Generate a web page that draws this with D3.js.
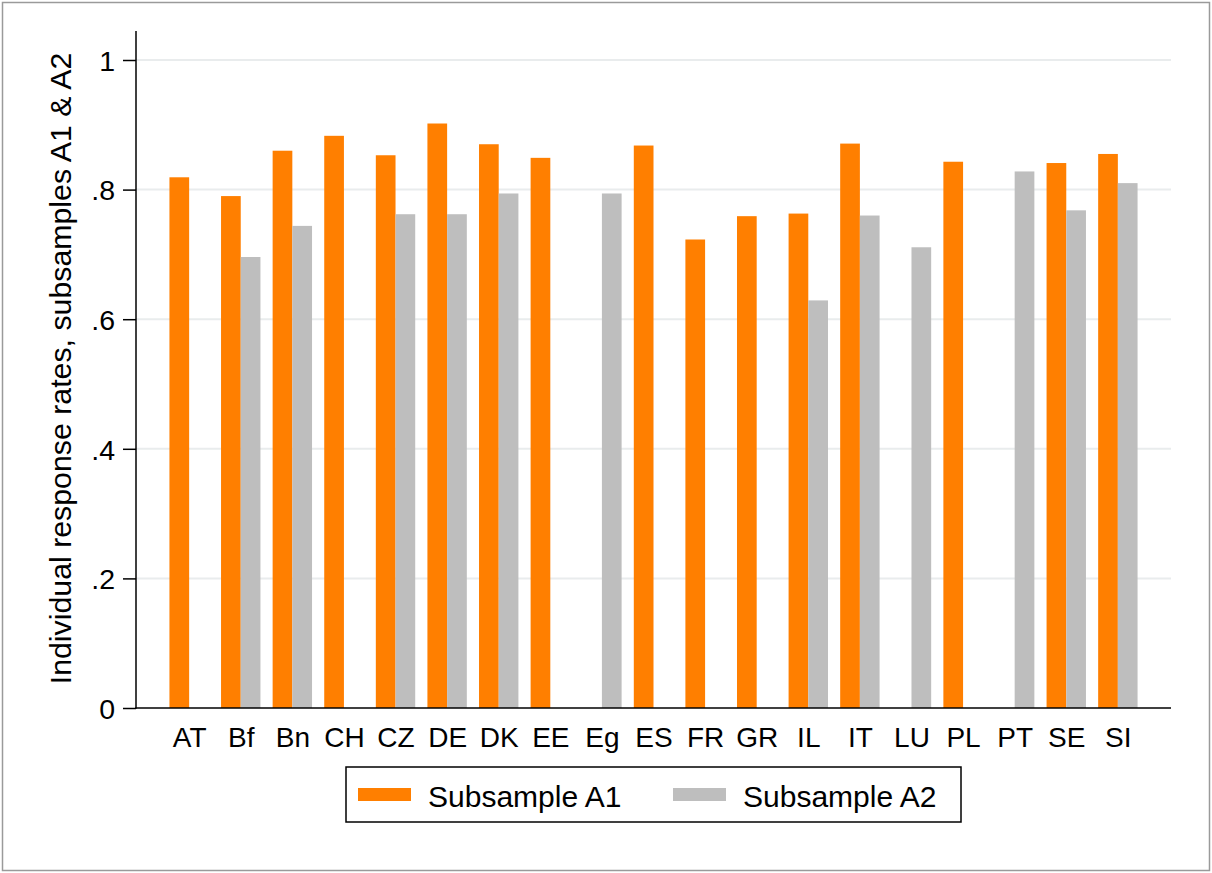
<!DOCTYPE html>
<html>
<head>
<meta charset="utf-8">
<script src="https://cdn.jsdelivr.net/npm/d3@7"></script>
<style>
  html, body { margin: 0; padding: 0; background: #fff; }
  svg { display: block; }
  text { font-family: "Liberation Sans", Arial, sans-serif; fill: #000; }
</style>
</head>
<body>
<div id="chart"></div>
<script>
// ---- data ----
const categories = ["AT","Bf","Bn","CH","CZ","DE","DK","EE","Eg","ES","FR","GR","IL","IT","LU","PL","PT","SE","SI"];
const subsampleA1 = [0.819,0.790,0.860,0.883,0.853,0.902,0.870,0.849,null,0.868,0.723,0.759,0.763,0.871,null,0.843,null,0.841,0.855];
const subsampleA2 = [null,0.696,0.744,null,0.762,0.762,0.794,null,0.794,null,null,null,0.629,0.760,0.711,null,0.828,0.768,0.810];
const seriesNames = ["Subsample A1","Subsample A2"];
const yTicks = [0, 0.2, 0.4, 0.6, 0.8, 1];
const yTickLabels = ["0", ".2", ".4", ".6", ".8", "1"];
const yTitle = "Individual response rates, subsamples A1 & A2";

(function () {
const W = 1212, H = 873;
const colors = ["#FF7F00", "#BEBEBE"];

const svg = d3.select("#chart").append("svg").attr("width", W).attr("height", H);

// outer frame
svg.append("rect").attr("x", 2.5).attr("y", 2.5).attr("width", 1207).attr("height", 868)
  .attr("fill", "#fff").attr("stroke", "#9a9a9a").attr("stroke-width", 1.5);

const pL = 136, pR = 1171, pT = 31, pB = 708;
const y = d3.scaleLinear().domain([0, 1]).range([pB, 60]);
const x = d3.scalePoint().domain(categories).range([pL, pR]).padding(1.03);
const barW = 19.7;

// gridlines
svg.append("g").selectAll("line").data(yTicks.filter(d => d > 0)).join("line")
  .attr("x1", pL).attr("x2", pR)
  .attr("y1", d => y(d)).attr("y2", d => y(d))
  .attr("stroke", "#e9eced").attr("stroke-width", 2);

// bars
const rows = categories.map((c, i) => ({c, a1: subsampleA1[i], a2: subsampleA2[i]}));
const g = svg.append("g");
g.selectAll("rect.a1").data(rows.filter(d => d.a1 != null)).join("rect")
  .attr("class", "a1")
  .attr("x", d => x(d.c) - barW).attr("width", barW)
  .attr("y", d => y(d.a1)).attr("height", d => y(0) - y(d.a1))
  .attr("fill", colors[0]);
g.selectAll("rect.a2").data(rows.filter(d => d.a2 != null)).join("rect")
  .attr("class", "a2")
  .attr("x", d => x(d.c)).attr("width", barW)
  .attr("y", d => y(d.a2)).attr("height", d => y(0) - y(d.a2))
  .attr("fill", colors[1]);

// y axis
const yAxis = d3.axisLeft(y).tickValues(yTicks).tickSize(13).tickPadding(8)
  .tickFormat((d, i) => yTickLabels[i]);
const ya = svg.append("g").attr("transform", `translate(${pL},0)`).call(yAxis);
ya.select(".domain").remove();
ya.selectAll(".tick line").attr("stroke", "#000").attr("stroke-width", 1.5);
ya.selectAll(".tick text").attr("font-size", 28.5).attr("font-family", "Liberation Sans, Arial, sans-serif")
  .attr("fill", "#000").attr("dy", "0.36em");
svg.append("line").attr("x1", pL).attr("x2", pL).attr("y1", pT).attr("y2", pB + 0.75)
  .attr("stroke", "#000").attr("stroke-width", 1.5);

// x axis
const xAxis = d3.axisBottom(x).tickSize(0).tickPadding(0);
const xa = svg.append("g").attr("transform", `translate(0,${pB})`).call(xAxis);
xa.select(".domain").remove();
xa.selectAll(".tick text").attr("font-size", 28).attr("font-family", "Liberation Sans, Arial, sans-serif")
  .attr("fill", "#000").attr("dy", null).attr("y", 38.5);
svg.append("line").attr("x1", pL - 0.75).attr("x2", pR).attr("y1", pB).attr("y2", pB)
  .attr("stroke", "#000").attr("stroke-width", 1.5);

// y title
svg.append("text")
  .attr("transform", `translate(71,${(pB + pT) / 2 - 1}) rotate(-90)`)
  .attr("text-anchor", "middle").attr("font-size", 30.3)
  .text(yTitle);

// legend
const lg = svg.append("g");
lg.append("rect").attr("x", 346).attr("y", 767).attr("width", 615).attr("height", 55)
  .attr("fill", "#fff").attr("stroke", "#000").attr("stroke-width", 1.5);
const legX = [358, 673];
seriesNames.forEach((name, i) => {
  lg.append("rect").attr("x", legX[i]).attr("y", 788).attr("width", 53).attr("height", 13)
    .attr("fill", colors[i]);
  lg.append("text").attr("x", legX[i] + 70).attr("y", 806.5).attr("font-size", 30).text(name);
});
})();
</script>
</body>
</html>
